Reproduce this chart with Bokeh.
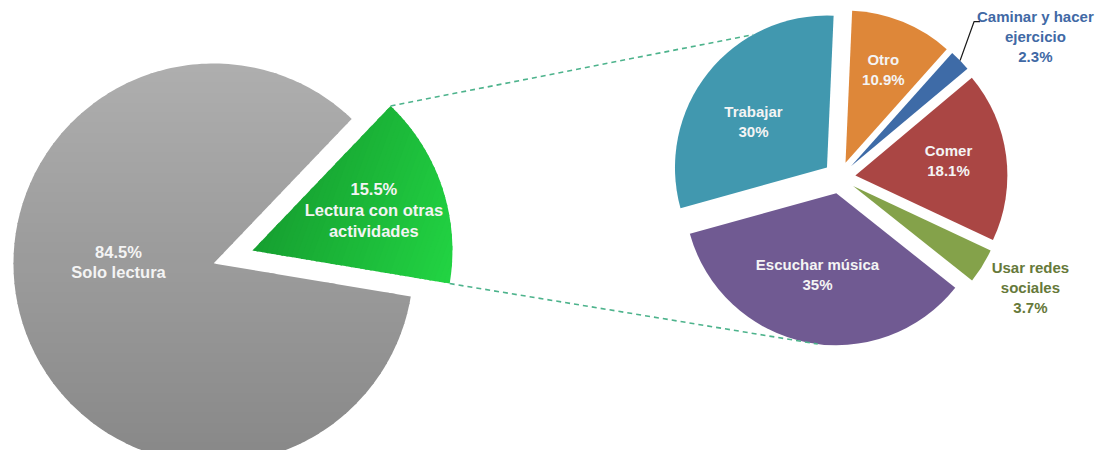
import numpy as np
from bokeh.plotting import figure
from bokeh.models import Range1d
from bokeh.core.properties import value
from bokeh.embed import file_html
from bokeh.resources import INLINE

# ---------------- data ----------------
main_labels = ["Lectura con otras actividades", "Solo lectura"]
main_values = [15.5, 84.5]
main_texts = ["15.5%\nLectura con otras\nactividades", "84.5%\nSolo lectura"]

sub_labels = ["Otro", "Caminar y hacer ejercicio", "Comer",
              "Usar redes sociales", "Escuchar música", "Trabajar"]
sub_values = [10.9, 2.3, 18.1, 3.7, 35.0, 30.0]
sub_texts = ["Otro\n10.9%", "Caminar y hacer\nejercicio\n2.3%", "Comer\n18.1%",
             "Usar redes\nsociales\n3.7%", "Escuchar música\n35%", "Trabajar\n30%"]

# ---------------- style / layout ----------------
W, H = 1096, 450
FONT = "Liberation Sans"
TOTAL_H = 466

# gradient colours (start, end) and gradient direction (math degrees)
main_grad = [("#169F30", "#22D443"), ("#AEAEAE", "#888888")]
main_grad_dir = [-20.0, -90.0]
main_explode = [41, 0]
main_label_f = [0.64, 0.475]
main_label_dang = [0.0, -19.3]
main_text_colors = ["#F4F4F4", "#F4F4F4"]
C1 = (213, TOTAL_H - 263)
R1 = 200
START1 = -9.5  # math degrees where the first slice begins (counter-clockwise)

sub_colors = ["#DE8739", "#3E6BA7", "#AA4644", "#84A24A", "#705A92", "#4198AF"]
sub_explode = [16] * 6
sub_label_f = [0.66, 1.484, 0.62, 1.345, 0.55, 0.57]
sub_label_dang = [0.0, 8.95, -1.5, -2.0, 1.5, -6.5]   # clockwise degrees
sub_text_colors = ["#F4F4F4", "#4169A5", "#F4F4F4", "#66793A", "#F4F4F4", "#F4F4F4"]
C2 = (839, TOTAL_H - 177)
R2 = 152
ROT2 = 2.5  # clockwise degrees from 12 o'clock

p = figure(width=W, height=H, output_backend="svg", toolbar_location=None,
           x_range=Range1d(0, W), y_range=Range1d(TOTAL_H - H, TOTAL_H),
           min_border=0, outline_line_color=None)
p.axis.visible = False
p.grid.visible = False
p.background_fill_color = "white"
p.border_fill_color = "white"


def pol(ang_deg, r):
    a = np.radians(ang_deg)
    return r * np.cos(a), r * np.sin(a)


def hex2rgb(h):
    h = h.lstrip("#")
    return np.array([int(h[i:i + 2], 16) for i in (0, 2, 4)], dtype=float)


def rgb2hex(c):
    c = np.clip(np.round(c), 0, 255).astype(int)
    return "#%02x%02x%02x" % tuple(c)


def clip_half(poly, ux, uy, c, keep_ge):
    out = []
    n = len(poly)
    if n == 0:
        return out
    def inside(pt):
        t = pt[0] * ux + pt[1] * uy
        return t >= c if keep_ge else t <= c
    def inter(a, b):
        ta = a[0] * ux + a[1] * uy
        tb = b[0] * ux + b[1] * uy
        s = (c - ta) / (tb - ta)
        return (a[0] + s * (b[0] - a[0]), a[1] + s * (b[1] - a[1]))
    prev = poly[-1]
    for cur in poly:
        if inside(cur):
            if not inside(prev):
                out.append(inter(prev, cur))
            out.append(cur)
        elif inside(prev):
            out.append(inter(prev, cur))
        prev = cur
    return out


def gradient_wedge(cx, cy, r, a0, a1, col0, col1, gdir, nb=40):
    angs = np.radians(np.linspace(a0, a1, 240))
    poly = [(cx, cy)] + [(cx + r * np.cos(a), cy + r * np.sin(a)) for a in angs]
    ux, uy = np.cos(np.radians(gdir)), np.sin(np.radians(gdir))
    ts = [q[0] * ux + q[1] * uy for q in poly]
    tmin, tmax = min(ts), max(ts)
    step = (tmax - tmin) / nb
    c0, c1 = hex2rgb(col0), hex2rgb(col1)
    xs, ys, cols = [], [], []
    for k in range(nb):
        lo = tmin + k * step - (0.8 if k > 0 else 0.0)
        hi = tmin + (k + 1) * step + (0.8 if k < nb - 1 else 0.0)
        piece = clip_half(clip_half(poly, ux, uy, lo, True), ux, uy, hi, False)
        if len(piece) < 3:
            continue
        xs.append([q[0] for q in piece])
        ys.append([q[1] for q in piece])
        cols.append(rgb2hex(c0 + (c1 - c0) * (k + 0.5) / nb))
    p.patches(xs=xs, ys=ys, fill_color=cols, line_color=None)


# ---------- main pie (counter-clockwise from START1) ----------
vals1 = np.array(main_values, dtype=float)
cum1 = np.concatenate([[0], np.cumsum(vals1)]) / vals1.sum() * 360.0
s1 = START1 + cum1[:-1]
e1 = START1 + cum1[1:]
mid1 = (s1 + e1) / 2
apex1 = []
for i in range(len(vals1)):
    dx, dy = pol(mid1[i], main_explode[i])
    ax, ay = C1[0] + dx, C1[1] + dy
    apex1.append((ax, ay))
    gradient_wedge(ax, ay, R1, s1[i], e1[i], main_grad[i][0], main_grad[i][1], main_grad_dir[i])

# ---------- secondary pie (clockwise from 12 o'clock) ----------
vals2 = np.array(sub_values, dtype=float)
cum2 = np.concatenate([[0], np.cumsum(vals2)]) / vals2.sum() * 360.0
c0 = ROT2 + cum2[:-1]
c1 = ROT2 + cum2[1:]
cmid = (c0 + c1) / 2
apex2 = []
for i in range(len(vals2)):
    dx, dy = pol(90 - cmid[i], sub_explode[i])
    ax, ay = C2[0] + dx, C2[1] + dy
    apex2.append((ax, ay))
    p.wedge(x=ax, y=ay, radius=R2, start_angle=np.radians(90 - c1[i]), end_angle=np.radians(90 - c0[i]),
            fill_color=sub_colors[i], line_color=None)

# ---------- connector dashed lines ----------
g = 0  # index of the exploded slice in the main pie
gx, gy = apex1[g]
top_start = (gx + pol(e1[g], R1)[0], gy + pol(e1[g], R1)[1])
bot_start = (gx + pol(s1[g], R1)[0], gy + pol(s1[g], R1)[1])
ti = len(vals2) - 1   # Trabajar
bi = len(vals2) - 2   # Escuchar música
TOP_HIT, BOT_HIT = 331.0, 187.0
tx, ty = apex2[ti]
bx, by = apex2[bi]
top_end = (tx + pol(90 - TOP_HIT, R2)[0], ty + pol(90 - TOP_HIT, R2)[1])
bot_end = (bx + pol(90 - BOT_HIT, R2)[0], by + pol(90 - BOT_HIT, R2)[1])
for a, b in [(top_start, top_end), (bot_start, bot_end)]:
    p.line(x=[a[0], b[0]], y=[a[1], b[1]], line_color="#4DB38C", line_width=1.6,
           line_dash="5 4")

# ---------- leader for small slice ----------
ci = 1
cx, cy = apex2[ci]
ls = (cx + pol(90 - cmid[ci], R2)[0], cy + pol(90 - cmid[ci], R2)[1])
elbow = (ls[0] + 14, ls[1] + 39)
lend = (elbow[0] + 6, elbow[1])
p.line(x=[ls[0], elbow[0], lend[0]], y=[ls[1], elbow[1], lend[1]], line_color="#1A1A1A", line_width=1.2)

# ---------- labels ----------
for i in range(len(vals1)):
    ax, ay = apex1[i]
    dx, dy = pol(mid1[i] + main_label_dang[i], R1 * main_label_f[i])
    p.text(x=[ax + dx], y=[ay + dy], text=[main_texts[i]], text_align="center",
           text_baseline="middle", text_font=value(FONT), text_font_style="bold",
           text_font_size="16.5px", text_color=main_text_colors[i], text_line_height=1.15)

for i in range(len(vals2)):
    ax, ay = apex2[i]
    dx, dy = pol(90 - (cmid[i] + sub_label_dang[i]), R2 * sub_label_f[i])
    p.text(x=[ax + dx], y=[ay + dy], text=[sub_texts[i]], text_align="center",
           text_baseline="middle", text_font=value(FONT), text_font_style="bold",
           text_font_size="15px", text_color=sub_text_colors[i], text_line_height=1.18)

open("out.html", "w").write(file_html(p, INLINE))
